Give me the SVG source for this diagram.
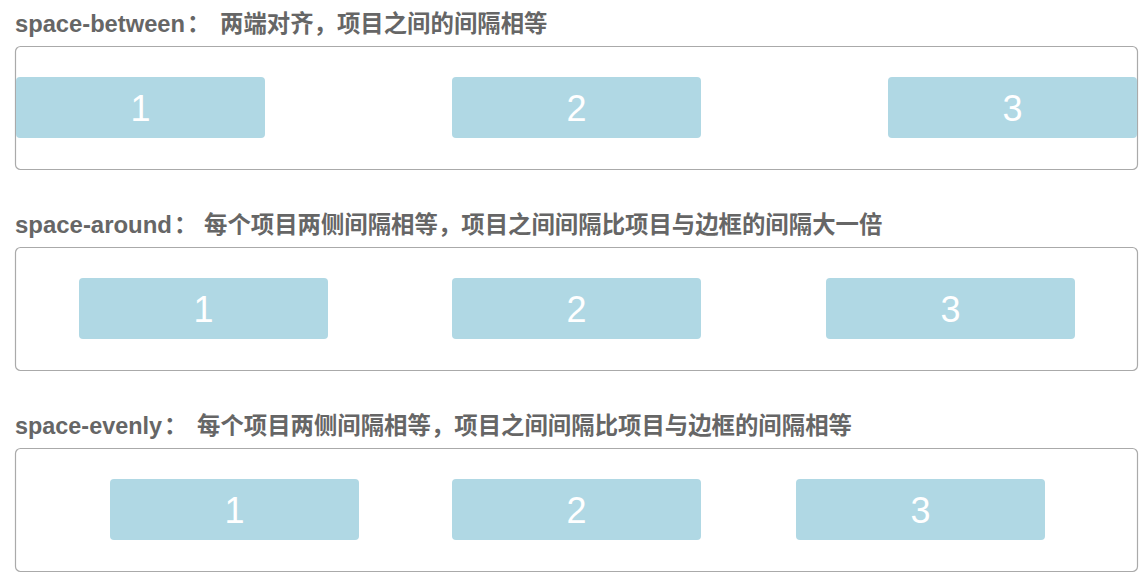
<svg xmlns="http://www.w3.org/2000/svg" width="1145" height="580" viewBox="0 0 1145 580">
<style>
.title{font-family:"Liberation Sans","Noto Sans CJK SC",sans-serif;font-size:23.4px;font-weight:bold;fill:#666}
.lat{font-family:"Liberation Sans",Arial,sans-serif;font-size:23px;font-weight:bold;fill:#666}
.box{fill:#fff;stroke:#aaa;stroke-width:1.2}
.item{fill:#b0d8e4}
.num{font-family:"Liberation Sans",Arial,sans-serif;font-size:36px;fill:#fff;text-anchor:middle}
</style>
<rect width="1145" height="580" fill="#fff"/>
<g id="sec1">
<text class="lat" x="15" y="32" textLength="170" lengthAdjust="spacingAndGlyphs">space-between</text>
<text class="title" x="187" y="32">：</text>
<text class="title" x="220" y="32">两端对齐，项目之间的间隔相等</text>
<rect class="box" x="15.5" y="46.5" width="1122" height="123" rx="5"/>
<g id="b1-1"><rect class="item" x="16" y="77" width="249" height="61" rx="4"/><text class="num" x="140.5" y="121">1</text></g>
<g id="b1-2"><rect class="item" x="452" y="77" width="249" height="61" rx="4"/><text class="num" x="576.5" y="121">2</text></g>
<g id="b1-3"><rect class="item" x="888" y="77" width="249" height="61" rx="4"/><text class="num" x="1012.5" y="121">3</text></g>
</g>
<g id="sec2">
<text class="lat" x="15" y="233" textLength="157" lengthAdjust="spacingAndGlyphs">space-around</text>
<text class="title" x="174" y="233">：</text>
<text class="title" x="204" y="233">每个项目两侧间隔相等，项目之间间隔比项目与边框的间隔大一倍</text>
<rect class="box" x="15.5" y="247.5" width="1122" height="123" rx="5"/>
<g id="b2-1"><rect class="item" x="79" y="278" width="249" height="61" rx="4"/><text class="num" x="203.5" y="322">1</text></g>
<g id="b2-2"><rect class="item" x="452" y="278" width="249" height="61" rx="4"/><text class="num" x="576.5" y="322">2</text></g>
<g id="b2-3"><rect class="item" x="826" y="278" width="249" height="61" rx="4"/><text class="num" x="950.5" y="322">3</text></g>
</g>
<g id="sec3">
<text class="lat" x="15" y="434" textLength="147" lengthAdjust="spacingAndGlyphs">space-evenly</text>
<text class="title" x="164" y="434">：</text>
<text class="title" x="197" y="434">每个项目两侧间隔相等，项目之间间隔比项目与边框的间隔相等</text>
<rect class="box" x="15.5" y="448.5" width="1122" height="123" rx="5"/>
<g id="b3-1"><rect class="item" x="110" y="479" width="249" height="61" rx="4"/><text class="num" x="234.5" y="523">1</text></g>
<g id="b3-2"><rect class="item" x="452" y="479" width="249" height="61" rx="4"/><text class="num" x="576.5" y="523">2</text></g>
<g id="b3-3"><rect class="item" x="796" y="479" width="249" height="61" rx="4"/><text class="num" x="920.5" y="523">3</text></g>
</g>
<g id="connectors"/>
</svg>
